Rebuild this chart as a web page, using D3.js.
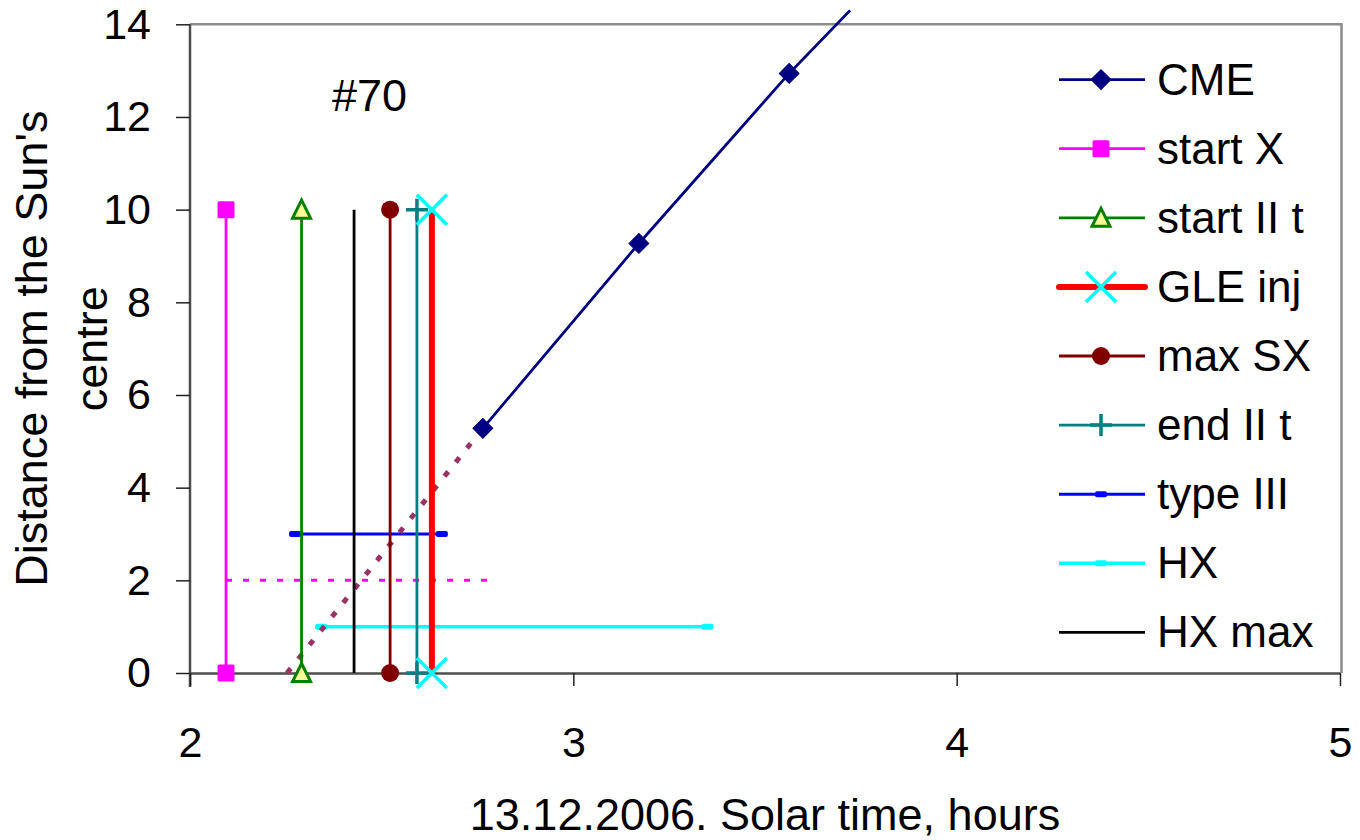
<!DOCTYPE html>
<html>
<head>
<meta charset="utf-8">
<script src="https://cdn.jsdelivr.net/npm/d3@7"></script>
<style>
  html, body { margin: 0; padding: 0; background: #fff; }
  svg { display: block; font-family: "Liberation Sans", Arial, sans-serif; }
</style>
</head>
<body>
<svg id="chart" width="1360" height="840"></svg>
<script>
// ---------------- data ----------------
const xTicks = [2, 3, 4, 5];
const yTicks = [0, 2, 4, 6, 8, 10, 12, 14];
const xTitle = "13.12.2006. Solar time, hours";
const yTitleLines = ["Distance from the Sun's", "centre"];
const eventLabel = "#70";

// CME height-time points (the last one lies above the axis range)
const cmeTime = [2.764, 3.171, 3.563, 3.722];
const cmeDist = [5.28, 9.27, 12.94, 14.30];

// dotted back-extrapolation of the CME to the solar surface
const extrapTime = [2.253, 2.764];
const extrapDist = [0, 5.28];

// vertical event markers: time (hours), distance range 0..10
const vertDist = [0, 10];
const startXTime = 2.094;
const startIItTime = 2.291;
const hxMaxTime = 2.428;
const maxSXTime = 2.522;
const endIItTime = 2.592;
const gleInjTime = 2.631;

// horizontal intervals
const typeIIITime = [2.274, 2.657];
const typeIIIDist = [3, 3];
const hxTime = [2.342, 3.350];
const hxDist = [1, 1];
const startXLevelTime = [2.094, 2.79];
const startXLevelDist = [2, 2];

const legendNames = ["CME", "start X", "start II t", "GLE inj", "max SX", "end II t", "type III", "HX", "HX max"];

// ---------------- layout ----------------
const svg = d3.select("#chart");
const L = 190, R = 1340, T = 24.3, B = 673;
const x = d3.scaleLinear().domain([2, 5]).range([L, R]);
const y = d3.scaleLinear().domain([0, 14]).range([B, T]);

const C = {
  cme: "#000080", startX: "#ff00ff", startII: "#008000", triFill: "#ffff99",
  gle: "#ff0000", gleMk: "#00ffff", maxSX: "#800000", endII: "#008080",
  typeIII: "#0000ff", hx: "#00ffff", hxMax: "#000000", extrap: "#993366"
};

// plot frame (top and right border)
svg.append("path")
  .attr("d", `M${L},${T}H${R + 1.5}V${B}`)
  .attr("fill", "none").attr("stroke", "#8c8c8c").attr("stroke-width", 2.5);

// axes
const yAxis = d3.axisLeft(y).tickValues(yTicks).tickSize(14).tickPadding(25).tickSizeOuter(0);
const gy = svg.append("g").attr("transform", `translate(${L},0)`).call(yAxis);
const xAxis = d3.axisBottom(x).tickValues(xTicks).tickSize(13).tickPadding(40).tickSizeOuter(0).tickFormat(d3.format("d"));
const gx = svg.append("g").attr("transform", `translate(0,${B})`).call(xAxis);
[gx, gy].forEach(g => {
  g.select(".domain").attr("stroke", "#4d4d4d").attr("stroke-width", 2.5);
  g.selectAll(".tick line").attr("stroke", "#222").attr("stroke-width", 1.5);
  g.selectAll(".tick text").attr("fill", "#000").style("font-size", "43px")
    .style("font-family", "'Liberation Sans', Arial, sans-serif");
});
gy.select(".domain").attr("d", `M0,${T}V${B + 14}`);

// axis titles
svg.append("text").attr("x", (L + R) / 2).attr("y", 830).attr("text-anchor", "middle")
  .style("font-size", "45px").text(xTitle);
const yt = svg.append("text").attr("transform", `translate(0,${(T + B) / 2}) rotate(-90)`)
  .attr("text-anchor", "middle").style("font-size", "45px");
yt.append("tspan").attr("x", 0).attr("y", 47).text(yTitleLines[0]);
yt.append("tspan").attr("x", 0).attr("y", 107).text(yTitleLines[1]);

// event label
svg.append("text").attr("x", 332).attr("y", 111).style("font-size", "45px").text(eventLabel);

// ---------------- markers ----------------
function marker(g, type, cx, cy) {
  const m = g.append("g").attr("transform", `translate(${cx},${cy})`);
  if (type === "diamond") {
    m.append("rect").attr("x", -7).attr("y", -7).attr("width", 14).attr("height", 14)
      .attr("transform", "rotate(45)").attr("fill", C.cme).attr("stroke", C.cme).attr("stroke-width", 1);
  } else if (type === "square") {
    m.append("rect").attr("x", -8.5).attr("y", -8.5).attr("width", 17).attr("height", 17)
      .attr("rx", 1.5).attr("fill", C.startX);
  } else if (type === "triangle") {
    m.append("path").attr("d", "M0,-9.5L9,8.5L-9,8.5Z").attr("fill", C.triFill)
      .attr("stroke", C.startII).attr("stroke-width", 3).attr("stroke-linejoin", "miter");
  } else if (type === "cross") {
    m.append("path").attr("d", "M-15,-15L15,15M-15,15L15,-15").attr("stroke", C.gleMk).attr("stroke-width", 3.5);
  } else if (type === "circle") {
    m.append("circle").attr("r", 9).attr("fill", C.maxSX);
  } else if (type === "plus") {
    m.append("path").attr("d", "M-11,0H11M0,-11V11").attr("stroke", C.endII).attr("stroke-width", 3.5);
  } else if (type === "dashB") {
    m.append("rect").attr("x", -6).attr("y", -3).attr("width", 12).attr("height", 6).attr("rx", 2).attr("fill", C.typeIII);
  } else if (type === "dashC") {
    m.append("rect").attr("x", -6).attr("y", -3).attr("width", 12).attr("height", 6).attr("rx", 2).attr("fill", C.hx);
  }
}

const line = d3.line().x(d => x(d[0])).y(d => y(d[1]));
const plot = svg.append("g");

function series(times, dists, color, width, dash) {
  const pts = times.map((t, i) => [t, dists[i]]);
  plot.append("path").datum(pts).attr("d", line).attr("fill", "none")
    .attr("stroke", color).attr("stroke-width", width)
    .attr("stroke-dasharray", dash || null);
  return pts;
}

// horizontal intervals
series(startXLevelTime, startXLevelDist, C.startX, 3, "6 11");
let p = series(typeIIITime, typeIIIDist, C.typeIII, 3);
p.forEach(d => marker(plot, "dashB", x(d[0]), y(d[1])));
p = series(hxTime, hxDist, C.hx, 3.5);
p.forEach(d => marker(plot, "dashC", x(d[0]), y(d[1])));

// dotted extrapolation
series(extrapTime, extrapDist, C.extrap, 5, "6 12");

// vertical events
const verticals = [
  { t: startXTime, c: C.startX, w: 2.8, m: "square" },
  { t: startIItTime, c: C.startII, w: 2.8, m: "triangle" },
  { t: maxSXTime, c: C.maxSX, w: 2.8, m: "circle" },
  { t: endIItTime, c: C.endII, w: 2.8, m: "plus" },
  { t: gleInjTime, c: C.gle, w: 6, m: "cross" },
  { t: hxMaxTime, c: C.hxMax, w: 2.8, m: null }
];
verticals.forEach(v => {
  const pts = series([v.t, v.t], vertDist, v.c, v.w);
  if (v.m) pts.forEach(d => marker(plot, v.m, x(d[0]), y(d[1])));
});

// CME
p = series(cmeTime, cmeDist, C.cme, 2.8);
p.filter(d => d[1] <= 14).forEach(d => marker(plot, "diamond", x(d[0]), y(d[1])));

// ---------------- legend ----------------
const legendSpec = [
  { c: C.cme, w: 2.8, m: "diamond" },
  { c: C.startX, w: 2.8, m: "square" },
  { c: C.startII, w: 2.8, m: "triangle" },
  { c: C.gle, w: 6, m: "cross" },
  { c: C.maxSX, w: 2.8, m: "circle" },
  { c: C.endII, w: 2.8, m: "plus" },
  { c: C.typeIII, w: 3, m: "dashB" },
  { c: C.hx, w: 3.5, m: "dashC" },
  { c: C.hxMax, w: 2.8, m: null }
];
const lg = svg.append("g");
legendNames.forEach((name, i) => {
  const ly = 79.6 + i * 69.1;
  const s = legendSpec[i];
  lg.append("line").attr("x1", 1059).attr("x2", 1145).attr("y1", ly).attr("y2", ly)
    .attr("stroke", s.c).attr("stroke-width", s.w).attr("stroke-linecap", s.w > 4 ? "round" : "butt");
  if (s.m) marker(lg, s.m, 1101, ly);
  lg.append("text").attr("x", 1157).attr("y", ly + 15).style("font-size", "44px").text(name);
});
</script>
</body>
</html>
